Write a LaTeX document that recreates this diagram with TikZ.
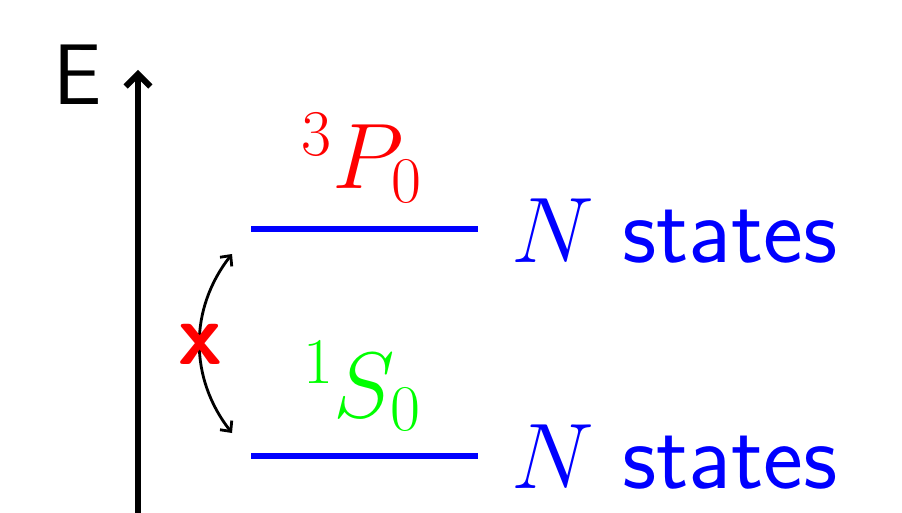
\documentclass[tikz,border=0pt]{standalone}
\usepackage{fix-cm}
\usepackage{amsmath, amssymb}
\usepackage{xcolor}
\usetikzlibrary{arrows.meta}

\begin{document}
\begin{tikzpicture}[x=0.02cm, y=-0.02cm, >={Straight Barb[length=7pt,width=14pt]},
    level/.style={blue, line width=2.9pt},
    big/.style={font=\fontsize{53}{63}\selectfont}]
\useasboundingbox (0,0) rectangle (902,513);
\coordinate (O) at (138,513);
\coordinate (T) at (138,70);
\coordinate (A1) at (251,229);
\coordinate (A2) at (478,229);
\coordinate (B1) at (251,456);
\coordinate (B2) at (478,456);
\coordinate (U) at (232,254);
\coordinate (L) at (232,433);
\draw[->, line width=3.4pt] (O) -- (T);
\node[font=\fontsize{49}{58}\selectfont\sffamily] (E) at (78,75) {E};
\draw[level] (A1) -- (A2);
\draw[level] (B1) -- (B2);
\node[big, red, anchor=base] (P) at (362,189) {$^3P_0$};
\node[big, green, anchor=base] (S) at (362,417) {$^1S_0$};
\node[big, blue, anchor=base west] (NA) at (505,262) {$N$ \textsf{\fontsize{54}{63}\selectfont states}};
\node[big, blue, anchor=base west] (NB) at (505,488) {$N$ \textsf{\fontsize{54}{63}\selectfont states}};
\draw[<->, line width=1.6pt, >={Straight Barb[length=4.5pt,width=8.5pt]}] (U) to[bend right=38] (L);
\node[red, font=\fontsize{50}{56}\selectfont\sffamily\bfseries] (X) at (200,344) {x};
\end{tikzpicture}
\end{document}
